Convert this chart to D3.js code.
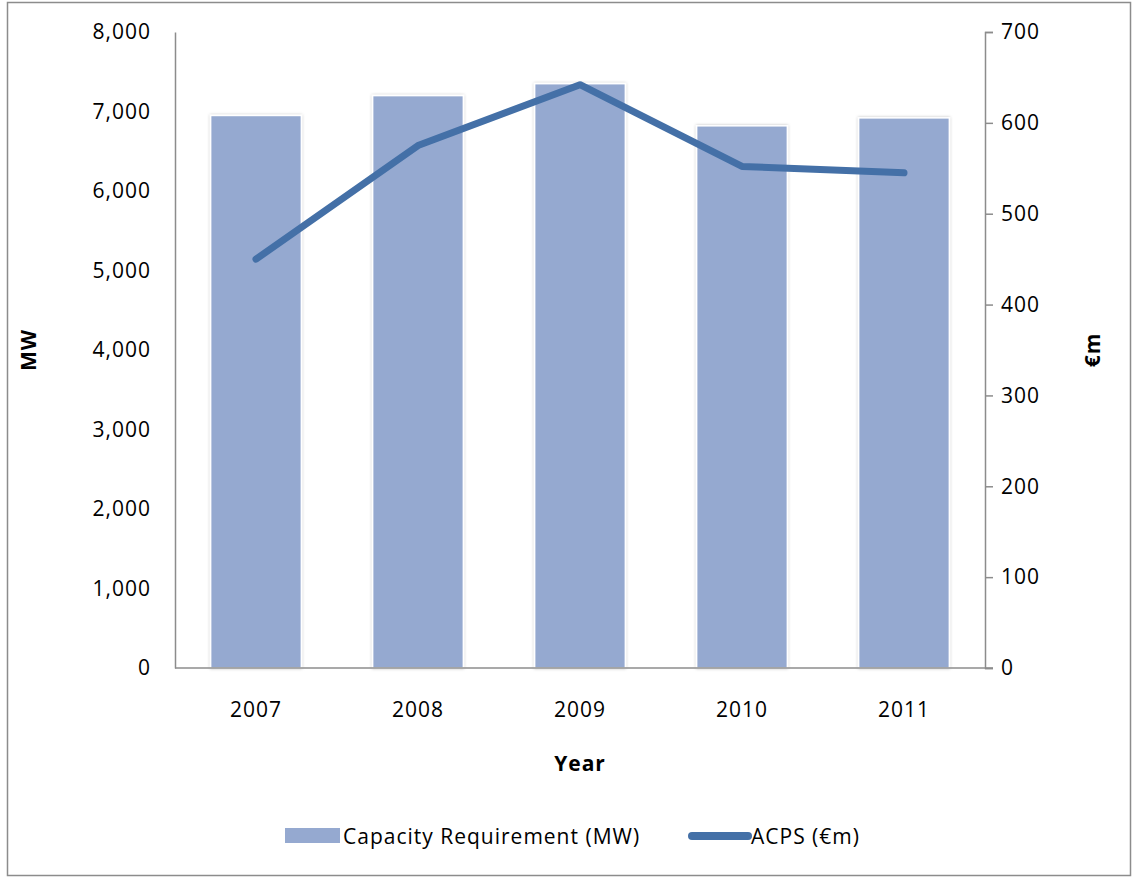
<!DOCTYPE html>
<html><head><meta charset="utf-8">
<script src="https://cdn.jsdelivr.net/npm/d3@7"></script>
<style>body{margin:0;background:#fff}svg{display:block;font-family:"Open Sans",sans-serif}text{letter-spacing:1px}</style>
</head><body>
<script>
const years = ["2007","2008","2009","2010","2011"];
const capacityMW = [6950, 7200, 7350, 6820, 6920];
const acpsEm = [450, 575, 642, 552, 545];
const leftTicks = [0,1000,2000,3000,4000,5000,6000,7000,8000];
const rightTicks = [0,100,200,300,400,500,600,700];

const W=1138,H=877,FS=21;
const m={l:175,r:985,t:32,b:668};
const svg=d3.select("body").append("svg").attr("width",W).attr("height",H);
svg.append("rect").attr("x",7.5).attr("y",2.5).attr("width",1123).attr("height",873).attr("fill","#fff").attr("stroke","#8c8c8c").attr("stroke-width",1.5);

const x=d3.scaleBand().domain(years).range([m.l,m.r]).paddingInner(0.44).paddingOuter(0.22);
const yL=d3.scaleLinear().domain([0,8000]).range([m.b,m.t]);
const yR=d3.scaleLinear().domain([0,700]).range([m.b,m.t]);

const defs=svg.append("defs");
const f=defs.append("filter").attr("id","sh").attr("x","-10%").attr("y","-10%").attr("width","120%").attr("height","120%");
f.append("feDropShadow").attr("dx",0).attr("dy",0).attr("stdDeviation",1.5).attr("flood-color","#000").attr("flood-opacity",0.25);

svg.append("g").selectAll("rect").data(years).join("rect")
 .attr("x",d=>x(d)).attr("width",x.bandwidth())
 .attr("y",(d,i)=>yL(capacityMW[i])).attr("height",(d,i)=>m.b-yL(capacityMW[i]))
 .attr("fill","#95a9d0").attr("stroke","#fff").attr("stroke-width",1.5).attr("filter","url(#sh)");

const fmt=d3.format(",");
const gl=svg.append("g").attr("transform",`translate(${m.l},0)`)
 .call(d3.axisLeft(yL).tickValues(leftTicks).tickFormat(fmt).tickSize(0).tickPadding(24));
const gr=svg.append("g").attr("transform",`translate(${m.r},0)`)
 .call(d3.axisRight(yR).tickValues(rightTicks).tickSize(8).tickPadding(8));
const gb=svg.append("g").attr("transform",`translate(0,${m.b})`)
 .call(d3.axisBottom(x).tickSize(0).tickPadding(34));
[gl,gr,gb].forEach(g=>{
 g.selectAll("path.domain,line").attr("stroke","#8c8c8c").attr("stroke-width",1.5);
 g.selectAll("text").attr("font-size",FS).attr("fill","#000").attr("font-family","'Open Sans',sans-serif");
});
gb.select("path.domain").attr("d",`M${m.l},0H${m.r+8}`);

const line=d3.line().x((d,i)=>x(years[i])+x.bandwidth()/2).y(d=>yR(d));
svg.append("path").datum(acpsEm).attr("d",line).attr("fill","none")
 .attr("stroke","#4470a7").attr("stroke-width",7).attr("stroke-linecap","round").attr("stroke-linejoin","round");

svg.append("text").attr("transform","translate(36,350) rotate(-90)").attr("text-anchor","middle")
 .attr("font-size",FS).attr("font-weight","bold").text("MW");
svg.append("text").attr("transform","translate(1100,350) rotate(-90)").attr("text-anchor","middle")
 .attr("font-size",FS).attr("font-weight","bold").text("€m");
svg.append("text").attr("x",580).attr("y",771).attr("text-anchor","middle")
 .attr("font-size",FS).attr("font-weight","bold").text("Year");

const lg=svg.append("g");
lg.append("rect").attr("x",285).attr("y",828).attr("width",55).attr("height",15).attr("fill","#95a9d0");
lg.append("text").attr("x",343).attr("y",844).attr("font-size",FS).text("Capacity Requirement (MW)");
lg.append("line").attr("x1",692).attr("x2",748).attr("y1",836).attr("y2",836).attr("stroke","#4470a7").attr("stroke-width",8).attr("stroke-linecap","round");
lg.append("text").attr("x",751).attr("y",844).attr("font-size",FS).text("ACPS (€m)");
</script>
</body></html>
